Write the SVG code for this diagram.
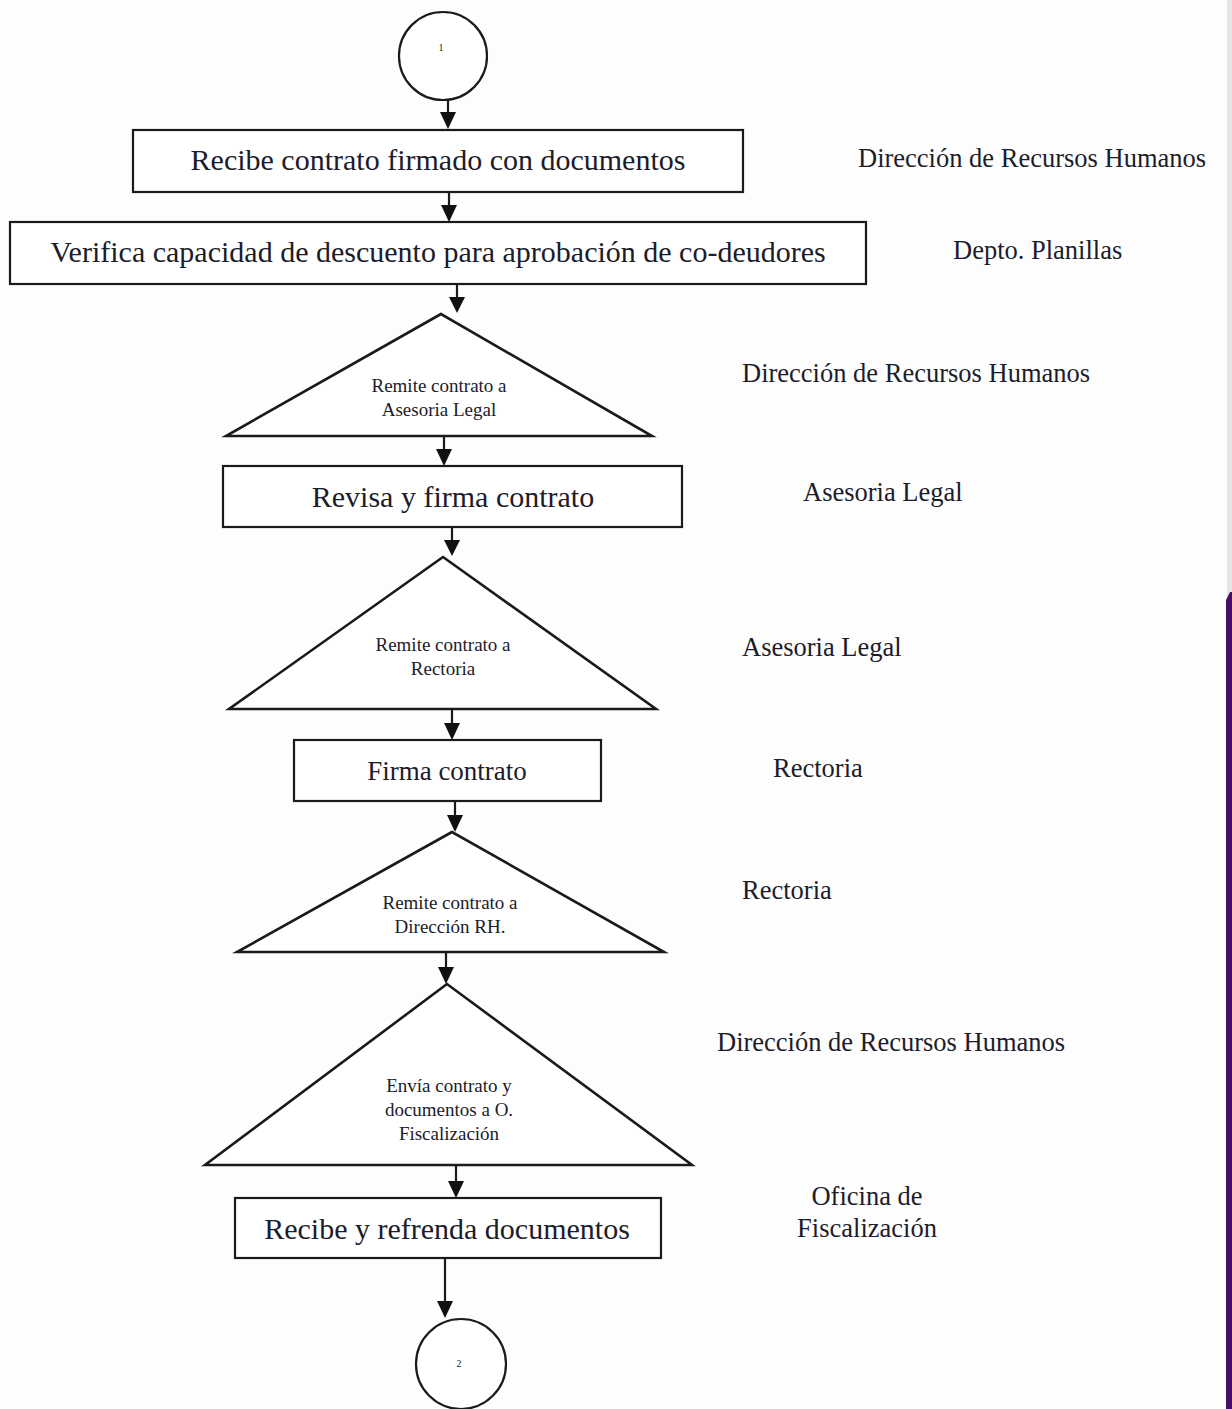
<svg xmlns="http://www.w3.org/2000/svg" width="1232" height="1409" viewBox="0 0 1232 1409">
<style>
.box{fill:#fff;stroke:#1a1a1a;stroke-width:2.2}
.tri{fill:#fff;stroke:#1a1a1a;stroke-width:2.6;stroke-linejoin:miter}
.conn{stroke:#1a1a1a;stroke-width:2.2;fill:none}
.head{fill:#111;stroke:none}
.t{font-family:"Liberation Serif","Times New Roman",serif;fill:#1c1c2a}
.big{font-size:30px;text-anchor:middle}
.mid{font-size:27px;text-anchor:middle}
.small{font-size:19px;text-anchor:middle}
.lab{font-size:26.5px}
.tiny{font-size:10px;text-anchor:middle}
</style>
<rect x="0" y="0" width="1232" height="1409" fill="#fdfdfd"/>
<rect x="1227" y="0" width="5" height="600" fill="#e6e6e6"/>
<path d="M1226,600 L1230,592 L1232,592 L1232,1409 L1226,1409 Z" fill="#4a0a68"/>

<g id="start">
<circle cx="443" cy="56" r="44" fill="#fff" stroke="#1a1a1a" stroke-width="2.2"/>
<text class="t tiny" x="441" y="51">1</text>
</g>

<g id="n1">
<rect class="box" x="133" y="130" width="610" height="62"/>
<text class="t big" x="438" y="170">Recibe contrato firmado con documentos</text>
</g>
<g id="n2">
<rect class="box" x="10" y="222" width="856" height="62"/>
<text class="t big" x="438" y="262">Verifica capacidad de descuento para aprobación de co-deudores</text>
</g>
<g id="n3">
<polygon class="tri" points="441,314 226,436 652,436"/>
<text class="t small" x="439" y="392">Remite contrato a</text>
<text class="t small" x="439" y="416">Asesoria Legal</text>
</g>
<g id="n4">
<rect class="box" x="223" y="466" width="459" height="61"/>
<text class="t big" x="453" y="507">Revisa y firma contrato</text>
</g>
<g id="n5">
<polygon class="tri" points="443,557 229,709 656,709"/>
<text class="t small" x="443" y="651">Remite contrato a</text>
<text class="t small" x="443" y="675">Rectoria</text>
</g>
<g id="n6">
<rect class="box" x="294" y="740" width="307" height="61"/>
<text class="t mid" x="447" y="780">Firma contrato</text>
</g>
<g id="n7">
<polygon class="tri" points="452,832 237,952 664,952"/>
<text class="t small" x="450" y="909">Remite contrato a</text>
<text class="t small" x="450" y="933">Dirección RH.</text>
</g>
<g id="n8">
<polygon class="tri" points="447,984 205,1165 692,1165"/>
<text class="t small" x="449" y="1092">Envía contrato y</text>
<text class="t small" x="449" y="1116">documentos a O.</text>
<text class="t small" x="449" y="1140">Fiscalización</text>
</g>
<g id="n9">
<rect class="box" x="235" y="1198" width="426" height="60"/>
<text class="t big" x="447" y="1239">Recibe y refrenda documentos</text>
</g>
<g id="end">
<circle cx="461" cy="1364" r="45" fill="#fff" stroke="#1a1a1a" stroke-width="2.2"/>
<text class="t tiny" x="459" y="1367">2</text>
</g>

<g id="connectors">
<line class="conn" x1="448" y1="100" x2="448" y2="116"/>
<polygon class="head" points="440,112 456,112 448,129"/>
<line class="conn" x1="449" y1="192" x2="449" y2="208"/>
<polygon class="head" points="441,205 457,205 449,222"/>
<line class="conn" x1="457" y1="284" x2="457" y2="300"/>
<polygon class="head" points="449,297 465,297 457,313"/>
<line class="conn" x1="444" y1="436" x2="444" y2="452"/>
<polygon class="head" points="436,449 452,449 444,466"/>
<line class="conn" x1="452" y1="527" x2="452" y2="543"/>
<polygon class="head" points="444,540 460,540 452,556"/>
<line class="conn" x1="452" y1="709" x2="452" y2="726"/>
<polygon class="head" points="444,723 460,723 452,740"/>
<line class="conn" x1="455" y1="801" x2="455" y2="818"/>
<polygon class="head" points="447,815 463,815 455,832"/>
<line class="conn" x1="446" y1="952" x2="446" y2="970"/>
<polygon class="head" points="438,967 454,967 446,984"/>
<line class="conn" x1="456" y1="1165" x2="456" y2="1184"/>
<polygon class="head" points="448,1181 464,1181 456,1198"/>
<line class="conn" x1="445" y1="1258" x2="445" y2="1304"/>
<polygon class="head" points="437,1301 453,1301 445,1318"/>
</g>

<g id="labels">
<text class="t lab" x="858" y="167">Dirección de Recursos Humanos</text>
<text class="t lab" x="953" y="259">Depto. Planillas</text>
<text class="t lab" x="742" y="382">Dirección de Recursos Humanos</text>
<text class="t lab" x="803" y="501">Asesoria Legal</text>
<text class="t lab" x="742" y="656">Asesoria Legal</text>
<text class="t lab" x="773" y="777">Rectoria</text>
<text class="t lab" x="742" y="899">Rectoria</text>
<text class="t lab" x="717" y="1051">Dirección de Recursos Humanos</text>
<text class="t lab" x="867" y="1205" text-anchor="middle">Oficina de</text>
<text class="t lab" x="867" y="1237" text-anchor="middle">Fiscalización</text>
</g>
</svg>
